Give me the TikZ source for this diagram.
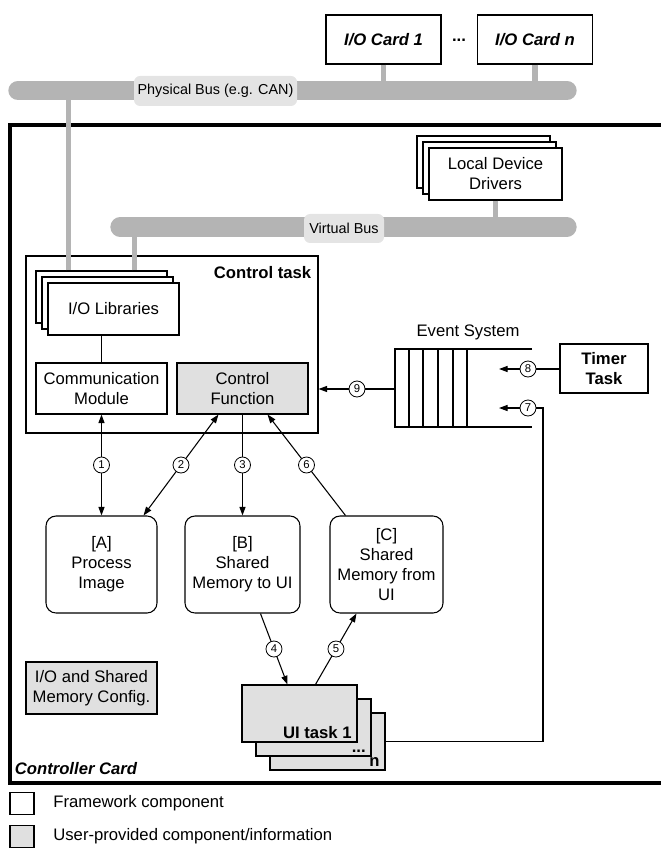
\documentclass[tikz,border=0pt]{standalone}
\usepackage{fontspec}
\setmainfont{Liberation Sans}
\usetikzlibrary{arrows.meta,calc}
\definecolor{busgray}{RGB}{180,180,180}
\definecolor{labelgray}{RGB}{228,228,228}
\definecolor{userfill}{RGB}{224,224,224}
\begin{document}
\begin{tikzpicture}[x=0.75pt,y=-0.75pt,line width=0.8pt,>={Triangle[length=6.5pt,width=4.6pt]},
every node/.style={font=\fontsize{12.5}{15}\selectfont,inner sep=1pt,align=center},
blk/.style 2 args={draw,fill=white,minimum width=#1*0.75pt,minimum height=#2*0.75pt},
user/.style={fill=userfill},
memblk/.style={blk={#1}{97},rounded corners=7.5pt},
bus/.style={line width=14.5pt,busgray,line cap=round},
stem/.style={line width=3.8pt,busgray},
buslabel/.style={fill=labelgray,rounded corners=4.5pt,font=\fontsize{10.8}{13}\selectfont},
num/.style={circle,draw,fill=white,line width=0.6pt,inner sep=0pt,minimum size=12pt,font=\fontsize{8.5}{9}\selectfont},
tag/.style={font=\fontsize{12.5}{15}\selectfont\bfseries},
itag/.style={font=\fontsize{12.5}{15}\selectfont\bfseries\itshape}]
\useasboundingbox (0,0) rectangle (660,848);
\coordinate (pbw) at (18,90.5);
\coordinate (pbe) at (567,90.5);
\coordinate (vbw) at (120,227);
\coordinate (vbe) at (567,227);
\draw[bus] (pbw) -- (pbe);
\draw[bus] (vbw) -- (vbe);
\node[blk={115}{49},itag] (card1) at (383.5,39.5) {I/O Card 1};
\node[tag] (carddots) at (459,40) {...};
\node[blk={115}{49},itag] (cardn) at (535,39.5) {I/O Card n};
\draw[stem] (card1.south) -- (card1.south |- pbe);
\draw[stem] (cardn.south) -- (cardn.south |- pbe);
\node[buslabel,minimum width=163*0.75pt,minimum height=30*0.75pt] (pbl) at (215.5,91) {Physical Bus (e.g. CAN)};
\draw[line width=3pt] (664,125) -- (10,125) -- (10,783) -- (664,783);
\node[itag,anchor=west] (cardlbl) at (13,769) {Controller Card};
\node[blk={133}{52}] (lddc) at (483.5,162) {};
\node[blk={133}{52}] (lddb) at (489.5,168) {};
\node[blk={133}{52}] (ldda) at (495.5,174) {Local Device\\Drivers};
\draw[stem] (ldda.south) -- (ldda.south |- vbe);
\node[buslabel,minimum width=80*0.75pt,minimum height=29*0.75pt] (vbl) at (344,228.5) {Virtual Bus};
\node[blk={292}{177}] (ctask) at (172,344.5) {};
\node[tag,anchor=east] (ctasklbl) at (313,273) {Control task};
\node[blk={131}{52}] (iolibc) at (101.5,297) {};
\node[blk={131}{52}] (iolibb) at (107.5,303) {};
\node[blk={131}{52}] (ioliba) at (113.5,309) {I/O Libraries};
\coordinate (phytap) at ($(iolibc.north west)+(33,0)$);
\coordinate (virttap) at ($(iolibc.north west)+(99,0)$);
\draw[stem] (phytap) -- (phytap |- pbe);
\draw[stem] (virttap) -- (virttap |- vbe);
\node[blk={131}{51}] (comm) at (101.5,388.5) {Communication\\Module};
\node[blk={131}{51},user] (cf) at (242.5,388.5) {Control\\Function};
\draw (ioliba.south -| comm.north) -- (comm.north);
\coordinate (evq) at (395,389);
\draw (532,349) -- (395,349) -- (395,427) -- (532,427);
\foreach \x in {409,423,438,453,467}
  \draw (\x,349) -- (\x,427);
\node (evlbl) at (468,332) {Event System};
\node[blk={88}{49},tag] (timer) at (604,368.5) {Timer\\Task};
\node[num] (n8) at (528,369) {8};
\coordinate (in8) at (499,369);
\node[num] (n7) at (528,408) {7};
\coordinate (in7) at (499,408);
\coordinate (ret) at (543,408);
\node[num] (n9) at (357,389) {9};
\draw (n8.east) -- (n8.east -| timer.west);
\draw[->] (n8) -- (in8);
\draw[->] (n7) -- (in7);
\draw (evq) -- (n9);
\draw[->] (n9) -- (n9 -| ctask.east);
\node[memblk=111] (pimg) at (101.5,564.5) {[A]\\Process\\Image};
\node[memblk=115] (shto) at (242.5,564.5) {[B]\\Shared\\Memory to UI};
\node[memblk=113] (shfrom) at (386.5,564.5) {[C]\\Shared\\Memory from\\UI};
\draw[<->] (comm.south) -- node[num] {1} (pimg.north);
\draw[<->] ($(cf.south west)+(42,0)$) -- node[num] {2} ($(pimg.north east)+(-14,0)$);
\draw[->] (cf.south) -- node[num] {3} (shto.north);
\draw[->] ($(shfrom.north west)+(16,0)$) -- node[num] {6} ($(cf.south east)+(-41,0)$);
\node[blk={115}{57},user] (uic) at (327.5,741.5) {};
\node[blk={115}{57},user] (uib) at (313.5,727.5) {};
\node[blk={115}{57},user] (uia) at (299.5,713.5) {};
\node[tag,anchor=south east] (uialbl) at ($(uia.south east)+(-4,-2)$) {UI task 1};
\node[tag,anchor=south east] (uiblbl) at ($(uib.south east)+(-4,-2)$) {...};
\node[tag,anchor=south east] (uiclbl) at ($(uic.south east)+(-4,-2)$) {n};
\draw (n7.east) -- (ret) |- (uic.east);
\draw[->] ($(shto.south west)+(76,0)$) -- node[num] {4} ($(uia.north west)+(46,0)$);
\draw[->] ($(uia.north west)+(74,0)$) -- node[num] {5} ($(shfrom.south west)+(27,0)$);
\node[blk={131}{52},user] (cfg) at (91.5,688) {I/O and Shared\\Memory Config.};
\node[blk={24}{22}] (lgfw) at (22,803.5) {};
\node[anchor=west] (lgfwt) at (51.5,803.5) {Framework component};
\node[blk={24}{22},user] (lgus) at (22,836.5) {};
\node[anchor=west] (lgust) at (51.5,836.5) {User-provided component/information};
\end{tikzpicture}
\end{document}
